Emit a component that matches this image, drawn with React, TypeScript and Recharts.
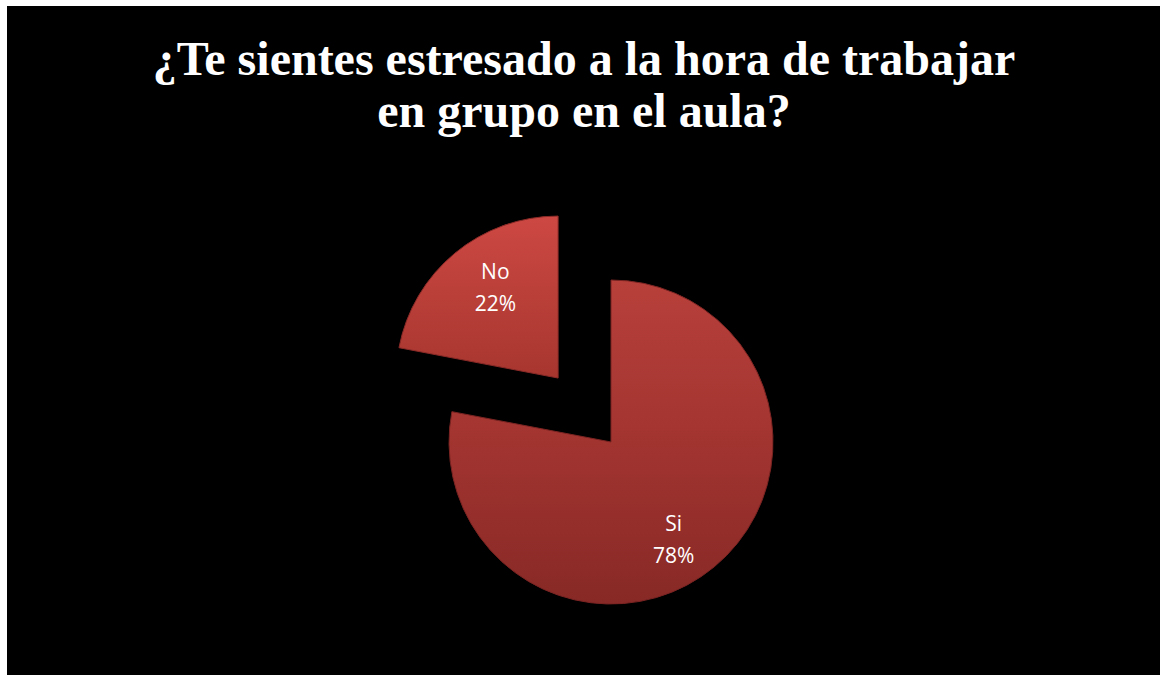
import React from "react";
import { PieChart, Pie, Cell } from "recharts";

const categories = ["Si", "No"];
const values = [78, 22];
const percentLabels = ["78%", "22%"];
const titleLines = ["¿Te sientes estresado a la hora de trabajar", "en grupo en el aula?"];

const W = 1160;
const H = 675;
const CX = 611;
const CY = 442;
const R = 162;
const EXPLODE = 83;

const data = categories.map((name, i) => ({ name, value: values[i], pct: percentLabels[i] }));
const total = values.reduce((a, b) => a + b, 0);

// explode offset of "No" slice computed from its mid angle (clockwise from 12 o'clock)
const noStartFrac = values[0] / total;
const noMidFrac = noStartFrac + values[1] / total / 2;
const noMidAngleRad = (90 - noMidFrac * 360) * (Math.PI / 180);
const NO_CX = CX + EXPLODE * Math.cos(noMidAngleRad);
const NO_CY = CY - EXPLODE * Math.sin(noMidAngleRad);

const RAD = Math.PI / 180;

const makeLabel = (visibleIndex: number) => (props: any) => {
  const { cx, cy, midAngle, outerRadius, index, payload } = props;
  if (index !== visibleIndex) return null;
  const r = outerRadius * 0.7;
  const a = midAngle - 6;
  const x = cx + r * Math.cos(-a * RAD);
  const y = cy + r * Math.sin(-a * RAD);
  return (
    <text
      x={x}
      y={y}
      fill="#ffffff"
      textAnchor="middle"
      fontFamily="'Open Sans', sans-serif"
      fontSize={21}
    >
      <tspan x={x} dy={-5}>{payload.name}</tspan>
      <tspan x={x} dy={32}>{payload.pct}</tspan>
    </text>
  );
};

export default function App() {
  return (
    <div style={{ position: "absolute", left: 0, top: 0, width: W, height: H, background: "#ffffff", overflow: "hidden" }}>
      <div style={{ position: "absolute", left: 7, top: 6, width: W - 7, height: H - 6, background: "#000000" }} />
      <div
        style={{
          position: "absolute",
          left: 0,
          top: 33,
          width: 1168,
          textAlign: "center",
          color: "#ffffff",
          fontFamily: "'Liberation Serif', 'Times New Roman', serif",
          fontWeight: "bold",
          fontSize: 48,
          lineHeight: "52px",
          whiteSpace: "nowrap",
        }}
      >
        {titleLines.map((l, i) => (
          <div key={i}>{l}</div>
        ))}
      </div>
      <div style={{ position: "absolute", left: 0, top: 0 }}>
        <PieChart width={W} height={H} margin={{ top: 0, right: 0, bottom: 0, left: 0 }}>
          <defs>
            <linearGradient id="gradSi" x1="0" y1="0" x2="0" y2="1">
              <stop offset="0%" stopColor="#b8403b" />
              <stop offset="50%" stopColor="#a23430" />
              <stop offset="100%" stopColor="#872926" />
            </linearGradient>
            <linearGradient id="gradNo" x1="0" y1="0" x2="0" y2="1">
              <stop offset="0%" stopColor="#cd4843" />
              <stop offset="100%" stopColor="#a7362f" />
            </linearGradient>
          </defs>
          <Pie
            data={data}
            dataKey="value"
            nameKey="name"
            cx={CX}
            cy={CY}
            outerRadius={R}
            innerRadius={0}
            startAngle={90}
            endAngle={-270}
            stroke="none"
            isAnimationActive={false}
            labelLine={false}
            label={makeLabel(0)}
          >
            {data.map((d, i) => (
              <Cell key={d.name} fill={i === 0 ? "url(#gradSi)" : "transparent"} stroke={i === 0 ? "#7a2422" : "none"} strokeWidth={1} />
            ))}
          </Pie>
          <Pie
            data={data}
            dataKey="value"
            nameKey="name"
            cx={NO_CX}
            cy={NO_CY}
            outerRadius={R}
            innerRadius={0}
            startAngle={90}
            endAngle={-270}
            stroke="none"
            isAnimationActive={false}
            labelLine={false}
            label={makeLabel(1)}
          >
            {data.map((d, i) => (
              <Cell key={d.name} fill={i === 1 ? "url(#gradNo)" : "transparent"} stroke={i === 1 ? "#8a2a27" : "none"} strokeWidth={1} />
            ))}
          </Pie>
        </PieChart>
      </div>
    </div>
  );
}
